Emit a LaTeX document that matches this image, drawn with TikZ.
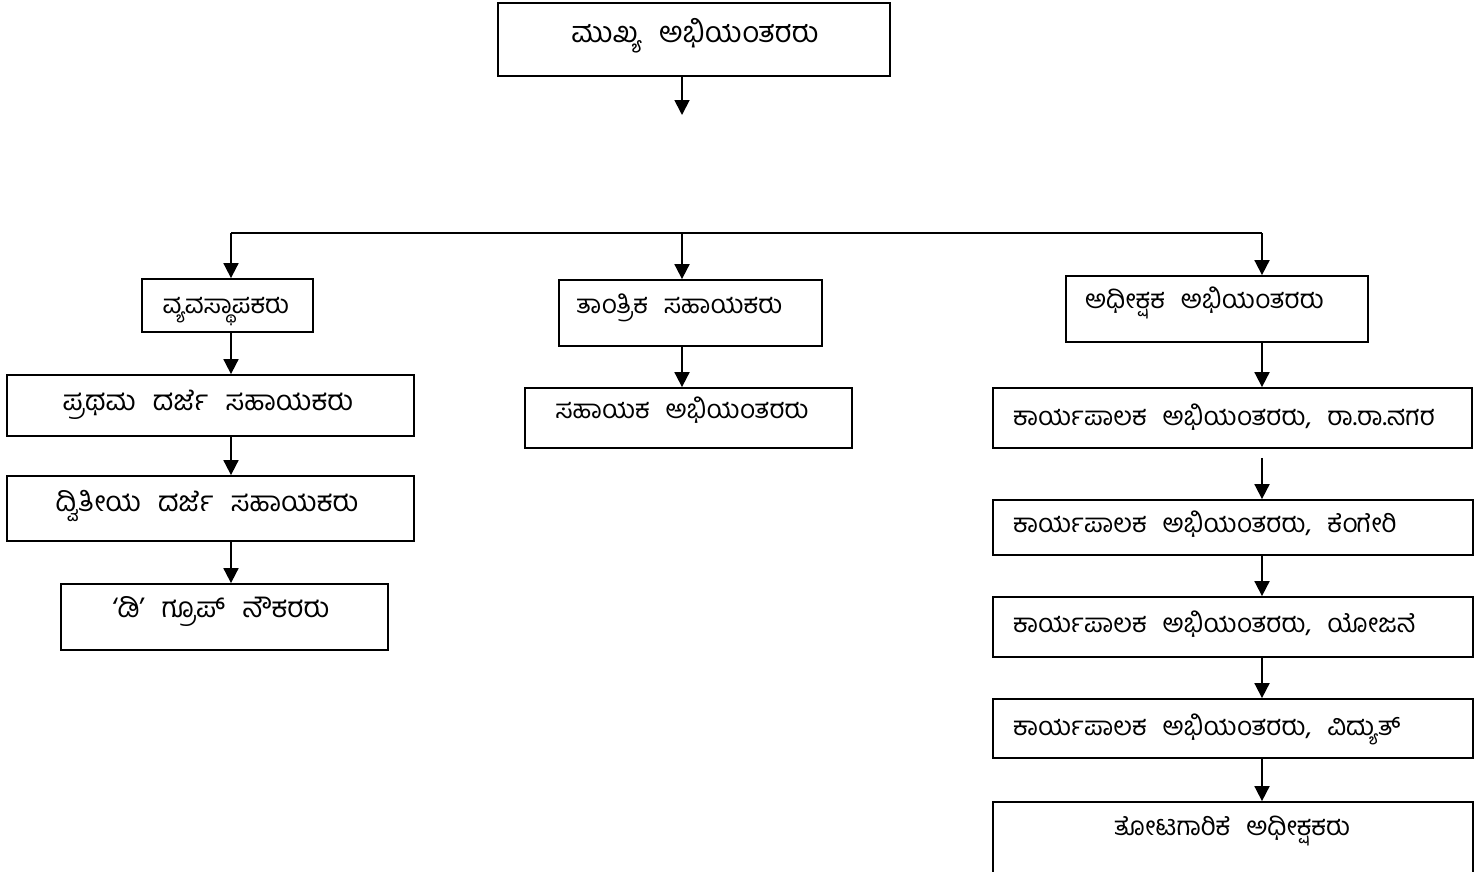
\documentclass[tikz,border=0pt]{standalone}
\usepackage{fontspec}
\newfontfamily\kn[Script=Kannada,WordSpace=2.5]{Hind Mysuru}
\usetikzlibrary{arrows.meta}
\tikzset{
  box/.style={draw, line width=1.8pt, inner sep=0pt},
  lbl/.style={inner sep=0pt, font=\kn\fontsize{26}{30}\selectfont},
  lblL/.style={inner sep=0pt, font=\kn\fontsize{28}{32}\selectfont},
  arr/.style={line width=1.8pt, -{Triangle[length=15pt,width=15pt]}},
  ln/.style={line width=1.8pt}
}
\newcommand{\bx}[5]{\node[box, minimum width=#4-#2, minimum height=#5-#3] (#1) at ({(#2+#4)/2},{(#3+#5)/2}) {};}
\begin{document}
\begin{tikzpicture}[x=1pt,y=-1pt]
\useasboundingbox (0,0) rectangle (1477,871);
\clip (0,0) rectangle (1477,871);
\fill[white] (0,0) rectangle (1477,871);
% boxes
\bx{top}{498}{3}{890}{76}
\bx{vyav}{142}{279}{313}{332}
\bx{prath}{7}{375}{414}{436}
\bx{dvit}{7}{476}{414}{541}
\bx{dgrp}{61}{584}{388}{650}
\bx{tant}{559}{280}{822}{346}
\bx{saha}{525}{388}{852}{448}
\bx{adhi}{1066}{276}{1368}{342}
\bx{kA}{993}{388}{1472}{448}
\bx{kB}{993}{500}{1473}{555}
\bx{kC}{993}{597}{1473}{657}
\bx{kD}{993}{699}{1473}{758}
\bx{thota}{993}{802}{1473}{900}
% labels
\node[lbl, anchor=base, font=\kn\fontsize{29}{32}\selectfont] (ttop) at (695,42) {ಮುಖ್ಯ ಅಭಿಯಂತರರು};
\node[lbl, anchor=base] (tvyav) at (226,313) {ವ್ಯವಸ್ಥಾಪಕರು};
\node[lblL, anchor=base] (tprath) at (208,410) {ಪ್ರಥಮ ದರ್ಜೆ ಸಹಾಯಕರು};
\node[lblL, anchor=base] (tdvit) at (207,511) {ದ್ವಿತೀಯ ದರ್ಜೆ ಸಹಾಯಕರು};
\node[lblL, anchor=base] (tdgrp) at (221,617) {‘ಡಿ’ ಗ್ರೂಪ್ ನೌಕರರು};
\node[lbl, anchor=base west] (ttant) at (576,313) {ತಾಂತ್ರಿಕ ಸಹಾಯಕರು};
\node[lbl, anchor=base] (tsaha) at (682,418) {ಸಹಾಯಕ ಅಭಿಯಂತರರು};
\node[lbl, anchor=base west] (tadhi) at (1085,308) {ಅಧೀಕ್ಷಕ ಅಭಿಯಂತರರು};
\node[lbl, anchor=base west] (tkA) at (1013,425) {ಕಾರ್ಯಪಾಲಕ ಅಭಿಯಂತರರು, ರಾ.ರಾ.ನಗರ};
\node[lbl, anchor=base west] (tkB) at (1013,532) {ಕಾರ್ಯಪಾಲಕ ಅಭಿಯಂತರರು, ಕೆಂಗೇರಿ};
\node[lbl, anchor=base west] (tkC) at (1013,632) {ಕಾರ್ಯಪಾಲಕ ಅಭಿಯಂತರರು, ಯೋಜನೆ};
\node[lbl, anchor=base west] (tkD) at (1013,735) {ಕಾರ್ಯಪಾಲಕ ಅಭಿಯಂತರರು, ವಿದ್ಯುತ್};
\node[lbl, anchor=base] (tthota) at (1232,835) {ತೋಟಗಾರಿಕೆ ಅಧೀಕ್ಷಕರು};
% connectors
\coordinate (topend) at (682,115);
\coordinate (hL) at (231,233);
\coordinate (hM) at (682,233);
\coordinate (hR) at (1262,233);
\draw[arr] (topend |- top.south) -- (topend);
\draw[ln] (hL) -- (hR);
\draw[arr] (hL) -- (hL |- vyav.north);
\draw[arr] (hM) -- (hM |- tant.north);
\draw[arr] (hR) -- (hR |- adhi.north);
\draw[arr] (hL |- vyav.south) -- (hL |- prath.north);
\draw[arr] (hL |- prath.south) -- (hL |- dvit.north);
\draw[arr] (hL |- dvit.south) -- (hL |- dgrp.north);
\draw[arr] (hM |- tant.south) -- (hM |- saha.north);
\draw[arr] (hR |- adhi.south) -- (hR |- kA.north);
\draw[arr, shorten <=9pt] (hR |- kA.south) -- (hR |- kB.north);
\draw[arr] (hR |- kB.south) -- (hR |- kC.north);
\draw[arr] (hR |- kC.south) -- (hR |- kD.north);
\draw[arr] (hR |- kD.south) -- (hR |- thota.north);
\end{tikzpicture}
\end{document}
